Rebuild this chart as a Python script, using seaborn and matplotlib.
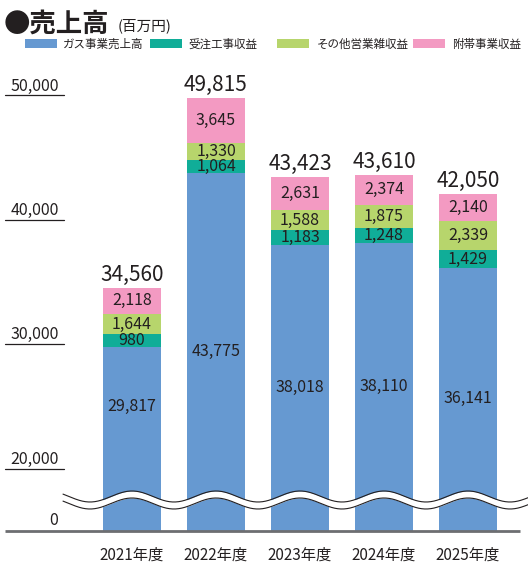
import numpy as np
import pandas as pd
import matplotlib
matplotlib.use("Agg")
import matplotlib.pyplot as plt
from matplotlib.patches import Rectangle
import seaborn as sns

# ---------------- data ----------------
years = ["2021年度", "2022年度", "2023年度", "2024年度", "2025年度"]
gas = [29817, 43775, 38018, 38110, 36141]        # ガス事業売上高
order_work = [980, 1064, 1183, 1248, 1429]        # 受注工事収益
other_ops = [1644, 1330, 1588, 1875, 2339]        # その他営業雑収益
ancillary = [2118, 3645, 2631, 2374, 2140]        # 附帯事業収益
totals = [34560, 49815, 43423, 43610, 42050]
series_names = ["ガス事業売上高", "受注工事収益", "その他営業雑収益", "附帯事業収益"]
ytick_values = [20000, 30000, 40000, 50000]
ytick_labels = ["20,000", "30,000", "40,000", "50,000"]

# ---------------- style / layout ----------------
colors = ["#6699d1", "#10ad98", "#b7d56c", "#f39ac2"]
blue_label_at = [25000, 29400, 26550, 26620, 25650]   # label positions inside blue bars
BASE = 15000          # value shown at the broken baseline
W, H = 528, 580
S = 0.012444          # px per unit

sns.set_style("white")
plt.rcParams["font.family"] = ["Noto Sans CJK JP", "DejaVu Sans"]
TXT = "#231f20"

fig = plt.figure(figsize=(W / 100, H / 100), dpi=100)
ax_l, ax_r, ax_b, ax_t = 5, 520, 531, 60
ax = fig.add_axes([ax_l / W, (H - ax_b) / H, (ax_r - ax_l) / W, (ax_b - ax_t) / H])

df = pd.DataFrame({"year": years, "gas": gas, "order": order_work,
                   "other": other_ops, "anc": ancillary})
df["c1"] = df["gas"]
df["c2"] = df["c1"] + df["order"]
df["c3"] = df["c2"] + df["other"]
df["c4"] = df["c3"] + df["anc"]

for col, c in zip(["c4", "c3", "c2", "c1"], colors[::-1]):
    sns.barplot(x=df["year"], y=df[col] - BASE, color=c, saturation=1,
                width=0.7, linewidth=0, order=years, ax=ax, zorder=2)

c0, step = 132, 84
px2x = lambda p: (p - c0) / step
ax.set_xlim(px2x(ax_l), px2x(ax_r))
ax.set_ylim(0, (ax_b - ax_t) / S)
ax.set_xlabel("")
ax.set_ylabel("")
ax.set_yticks([])
ax.set_xticks(range(len(years)))
ax.set_xticklabels(years, fontsize=11, color=TXT)
ax.tick_params(axis="x", length=0, pad=11)
for sp in ax.spines.values():
    sp.set_visible(False)

# baseline
ax.plot([px2x(5), px2x(520)], [0, 0], color="#6d6e71", lw=2, zorder=5,
        clip_on=False, solid_capstyle="butt")

# y tick labels with underlines
for v, lab in zip(ytick_values, ytick_labels):
    y = v - BASE
    ax.plot([px2x(5), px2x(64)], [y, y], color=TXT, lw=0.9, zorder=5, clip_on=False)
    ax.text(px2x(59), y + 5 / S, lab, ha="right", va="baseline",
            fontsize=11.5, color=TXT, zorder=6)
ax.text(px2x(58), 6 / S, "0", ha="right", va="baseline", fontsize=11.5, color=TXT)

# value labels
for i in range(len(years)):
    ax.text(i, totals[i] - BASE + 7 / S, f"{totals[i]:,}", ha="center",
            va="baseline", fontsize=15, color=TXT, zorder=6)
    ax.text(i, blue_label_at[i] - BASE, f"{gas[i]:,}", ha="center",
            va="center", fontsize=11.5, color=TXT, zorder=6)
    segs = [(df["c1"][i], order_work[i]), (df["c2"][i], other_ops[i]),
            (df["c3"][i], ancillary[i])]
    for start, val in segs:
        ax.text(i, start + val / 2 - BASE, f"{val:,}", ha="center",
                va="center", fontsize=11.5, color=TXT, zorder=6)

# wavy axis break
xs = np.linspace(px2x(63), px2x(528), 600)
top = (ax_b - 496.5) / S + (5.5 / S) * np.cos(2 * np.pi * xs)
bot = top - 7 / S
ax.fill_between(xs, bot, top, color="white", zorder=7, clip_on=False, lw=0)
ax.plot(xs, top, color=TXT, lw=0.8, zorder=8, clip_on=False)
ax.plot(xs, bot, color=TXT, lw=0.8, zorder=8, clip_on=False)

# overlay for title and legend (pixel coordinates)
ov = fig.add_axes([0, 0, 1, 1], zorder=10)
ov.set_xlim(0, W)
ov.set_ylim(H, 0)
ov.axis("off")
ov.patch.set_alpha(0)
ov.text(4, 32, "●売上高", fontsize=19, fontweight="bold", color=TXT, va="baseline")
ov.text(118, 30, "(百万円)", fontsize=10.5, color=TXT, va="baseline")

sw_x = [25, 150, 277, 413]
tx_x = [63, 188, 317, 452]
for name, c, sx, tx in zip(series_names, colors, sw_x, tx_x):
    ov.add_patch(Rectangle((sx, 39), 32, 9, color=c, lw=0))
    ov.text(tx, 44, name, fontsize=8.3, color=TXT, va="center")

fig.savefig("out.png", dpi=100)
